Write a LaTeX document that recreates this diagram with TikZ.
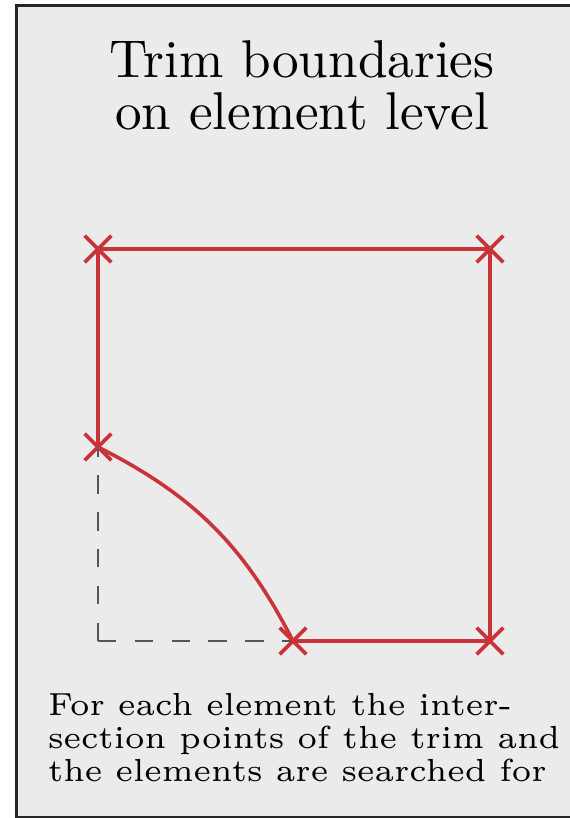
\documentclass[tikz,border=0pt]{standalone}
\usetikzlibrary{shapes.misc}

\definecolor{trimred}{RGB}{200,52,58}
\definecolor{panelgray}{RGB}{235,235,235}
\definecolor{dashgray}{RGB}{85,85,85}

\begin{document}
\begin{tikzpicture}[x=0.5pt, y=-0.5pt,
    trimline/.style={draw=trimred, line width=1.8pt},
    trimmark/.style={cross out, draw=trimred, line width=1.8pt, minimum size=11.5pt, inner sep=0pt},
    hidden/.style={draw=dashgray, line width=1.1pt, dash pattern=on 9.2pt off 9.2pt},
    titletext/.style={anchor=base, align=center, inner sep=0pt, scale=2.66, font=\fontsize{10}{9.96}\selectfont},
    notetext/.style={anchor=base west, align=left, inner sep=0pt, scale=2.66, font=\fontsize{6}{6.2}\selectfont}]

    % --- 1. frame ---
    \useasboundingbox (0,0) rectangle (569,818);
    \draw[fill=panelgray, draw=black!85, line width=1.2pt] (16.5,5.5) rectangle (575,817);

    % --- 2. corner positions ---
    \def\xL{98}
    \def\xCut{293}
    \def\xR{490}
    \def\yT{249}
    \def\yCut{447}
    \def\yB{641}

    \node[trimmark] (tl)   at (\xL,  \yT)   {};
    \node[trimmark] (tr)   at (\xR,  \yT)   {};
    \node[trimmark] (br)   at (\xR,  \yB)   {};
    \node[trimmark] (bcut) at (\xCut,\yB)   {};
    \node[trimmark] (lcut) at (\xL,  \yCut) {};
    \coordinate (corner) at (\xL, \yB);

    % --- 3. removed corner (dashed) ---
    \draw[hidden] (corner) -- (lcut.center);
    \draw[hidden] (corner) -- (bcut.center);

    % --- 4. trimmed boundary ---
    \draw[trimline] (lcut.center) -- (tl.center) -- (tr.center) -- (br.center) -- (bcut.center);
    \draw[trimline] (lcut.center) to[bend left=18] (bcut.center);

    % --- 5. texts ---
    \node[titletext] (title) at (302,130) {Trim boundaries\\on element level};
    \node[notetext] (note) at (47,781) {For each element the inter-\\section points of the trim and\\the elements are searched for};

\end{tikzpicture}
\end{document}
